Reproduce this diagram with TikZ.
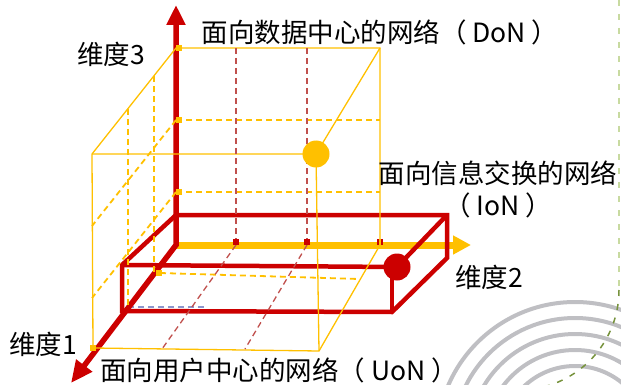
\documentclass[tikz,border=0pt]{standalone}
\usepackage{fontspec}
\setmainfont{Noto Sans CJK SC}
\usepackage{tikz}
\usetikzlibrary{arrows.meta,positioning}

\begin{document}
\begin{tikzpicture}[
    x=1pt, y=-1pt,
    every node/.style={
        font=\fontsize{26.5}{32}\selectfont,
        inner sep=0pt
    },
    cubeline/.style={draw=gold, line width=1.3pt},
    cubedash/.style={
        draw=gold,
        line width=1.8pt,
        dash pattern=on 6pt off 4pt
    },
    griddash/.style={
        draw=gridred,
        line width=1.3pt,
        dash pattern=on 6pt off 4pt
    },
    boxline/.style={draw=axisred, line width=4.5pt, line join=miter},
    axisline/.style={line width=5.5pt, line join=miter},
    ysq/.style={rectangle, fill=gold, minimum size=6pt},
    rsq/.style={rectangle, fill=axisred, minimum size=6.5pt},
    ball/.style={circle, fill=#1, minimum size=27pt}
]

%--- Color Definitions ---%
\definecolor{axisred}{RGB}{204,0,0}
\definecolor{gold}{RGB}{255,192,0}
\definecolor{gridred}{RGB}{192,80,77}
\definecolor{arcgray}{RGB}{191,191,195}
\definecolor{palegreen}{RGB}{200,218,160}
\definecolor{olivegreen}{RGB}{118,146,60}
\definecolor{ghostblue}{RGB}{140,150,205}

\useasboundingbox (0,0) rectangle (621,385);

%-----------------------------------------------
% Ornament in the lower right corner
%-----------------------------------------------
\begin{scope}
    \clip (0,0) rectangle (621,385);
    \coordinate (arcc) at (575,440);
    \foreach \r in {138,122,106,90,74}
        \draw[arcgray, line width=4pt] (arcc) circle[radius=\r pt];
\end{scope}

\coordinate (rimtop)  at (619,0);
\coordinate (rimbend) at (619,290);
\draw[palegreen, line width=1.5pt, dash pattern=on 6pt off 8pt]
    (rimtop) -- (rimbend);
\draw[olivegreen, line width=1.5pt, dash pattern=on 6pt off 8pt]
    (rimbend) arc[start angle=0, end angle=-76, radius=100pt];

%-----------------------------------------------
% Key points
%-----------------------------------------------
\coordinate (origin) at (176,245);
\coordinate (d3tip)  at (176,5);
\coordinate (d2tip)  at (471,245);
\coordinate (d1tip)  at (71,383);

% yellow cube (back face on the axis plane)
\coordinate (cbtl) at (176,48);
\coordinate (cbtr) at (380,48);
\coordinate (cbbr) at (380,245);
\coordinate (cftl) at (92,154);
\coordinate (cftr) at (316,154);
\coordinate (cfbr) at (319,351);
\coordinate (cfbl) at (93,348);

% red box
\coordinate (bbtl) at (176,215);
\coordinate (bbtr) at (447,215);
\coordinate (bbbr) at (447,258);
\coordinate (bftl) at (122,265);
\coordinate (bftr) at (397,267);
\coordinate (bfbr) at (392,312);
\coordinate (bfbl) at (122,311);

%-----------------------------------------------
% Dimension 2 axis
%-----------------------------------------------
\draw[axisline, gold, line width=7pt,
      -{Triangle[length=18pt,width=18pt]}]
    (origin) -- (d2tip);

%-----------------------------------------------
% Red box
%-----------------------------------------------
\draw[ghostblue, line width=1.2pt, dash pattern=on 6pt off 4pt]
    (128,307) -- (206,307);
\draw[boxline] (bbtl) -- (bbtr) -- (bbbr) -- (bfbr) -- (bfbl) -- (bftl) -- cycle;
\draw[boxline] (bftl) -- (bftr) -- (bbtr);
\draw[boxline] (bfbr) -- (bfbr |- bftr);

%-----------------------------------------------
% Dimension 3 and dimension 1 axes
%-----------------------------------------------
\draw[axisline, axisred,
      {Triangle[length=20pt,width=18pt]}-{Triangle[length=22pt,width=19pt]}]
    (d3tip) -- (origin) -- (d1tip);

%-----------------------------------------------
% Yellow cube
%-----------------------------------------------
\draw[cubeline] (cbtl) -- (cbtr) -- (cbbr) -- (cfbr) -- (cfbl) -- (cftl) -- cycle;
\draw[cubeline] (cftl) -- (cftr) -- (cbtr);
\draw[cubeline] (cftr) -- (cfbr);

\draw[cubedash] (176,120) -- (380,120);
\draw[cubedash] (176,192) -- (380,192);
\draw[cubedash] (176,120) -- (92,226);
\draw[cubedash] (176,192) -- (92,298);
\draw[cubedash] (154,76)  -- (154,273);
\draw[cubedash] (128,109) -- (128,308);
\draw[cubedash] (160,273) -- (359,279);

%-----------------------------------------------
% Red grid lines
%-----------------------------------------------
\draw[griddash] (236,48)  -- (236,242);
\draw[griddash] (307,48)  -- (307,242);
\draw[griddash] (236,245) -- (162,349);
\draw[griddash] (307,245) -- (245,349);

%-----------------------------------------------
% Tick marks
%-----------------------------------------------
\node[ysq] (t3a) at (179,48)  {};
\node[ysq] (t3b) at (179,120) {};
\node[ysq] (t3c) at (179,192) {};
\node[ysq] (t1a) at (159,273) {};
\node[ysq] (t1b) at (93,348)  {};
\node[rsq] (t2a) at (236,242) {};
\node[rsq] (t2b) at (307,242) {};
\node[rsq] (t2c) at (380,242) {};
\draw[gold, line width=1.5pt] (t2c.north) -- (t2c.south);

%-----------------------------------------------
% Network points
%-----------------------------------------------
\node[ball=gold]    (don) at (cftr) {};
\node[ball=axisred] (ion) at (bftr) {};

%-----------------------------------------------
% Labels
%-----------------------------------------------
\node (lbldon) at (380,32) {面向数据中心的网络（ DoN ）};
\node[align=center] (lblion) at (498,189) {面向信息交换的网络\\（ IoN ）};
\node (lbluon) at (279,370) {面向用户中心的网络（ UoN ）};
\node (lbld3) at (111,54)  {维度3};
\node (lbld2) at (489,277) {维度2};
\node (lbld1) at (43,344)  {维度1};

\end{tikzpicture}
\end{document}
